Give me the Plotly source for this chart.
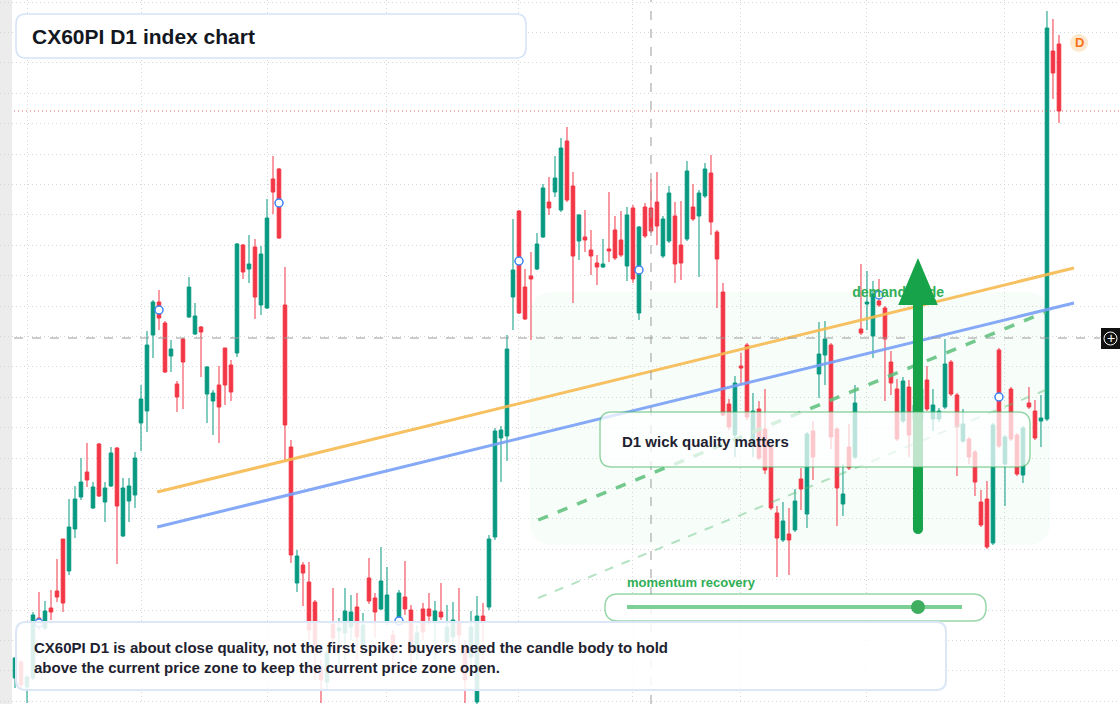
import plotly.graph_objects as go

W, H = 1120, 704

opens = [122,138,113,122,182,172,192,209,261,229,271,303,328,292,356,298,314,352,264,299,
         305,377,389,465,498,477,444,416,461,483,466,473,406,399,415,452,435,447,555,531,
         553,495,492,621,631,495,353,217,235,218,198,133,118,176,169,167,173,193,153,222,
         202,191,178,165,183,203,190,153,191,191,178,188,158,163,178,153,143,98,184,193,
         263,362,364,503,589,513,524,531,563,598,608,590,659,614,559,563,550,537,533,551,
         570,560,534,592,487,593,592,598,544,559,584,555,561,593,584,604,627,568,508,396,
         365,434,455,355,391,371,353,287,260,266,270,321,286,369,426,445,455,371,296,353,
         343,471,496,464,499,492,438,411,379,413,380,381,420,381,381,393,438,405,359,361,
         348,298,301,257,450,336,411,365,325,397,389,379,381,749,756]
highs = [143,140,125,188,208,199,210,241,261,301,314,342,357,318,357,318,353,353,322,322,
         348,415,469,500,510,479,460,419,462,523,497,474,434,410,434,452,440,557,556,565,
         561,554,601,644,632,533,360,250,238,238,200,140,155,212,182,212,205,207,187,242,
         207,253,233,170,210,239,195,175,197,207,199,217,195,198,212,160,189,204,197,265,
         372,374,465,581,590,531,548,567,616,623,644,662,673,628,586,590,570,545,561,608,
         584,589,593,595,574,597,621,628,584,614,598,599,639,616,610,637,645,570,517,401,
         424,447,457,407,399,411,355,294,298,292,311,332,368,379,478,479,457,373,336,376,
         415,536,529,519,521,494,449,421,423,420,400,415,434,411,392,461,440,407,391,363,
         350,310,319,377,452,365,413,367,374,413,400,405,789,781,765]
lows = [112,110,97,120,170,170,180,198,188,225,262,300,313,291,303,278,313,236,263,278,
        292,349,368,442,470,427,428,388,391,482,465,423,377,365,357,395,399,443,521,517,
        481,485,491,586,561,339,237,208,194,160,120,97,110,155,130,140,160,140,145,196,
        162,190,175,125,175,185,135,140,160,175,140,180,150,155,150,97,135,96,140,190,
        260,318,339,470,486,480,460,530,562,585,603,588,598,497,540,548,525,515,532,538,
        540,543,519,517,480,562,567,555,542,557,517,520,559,579,523,602,565,492,384,370,
        343,415,380,343,340,326,290,223,258,225,268,290,272,320,402,415,351,274,284,330,
        341,465,470,442,493,399,405,359,377,343,375,379,389,369,378,391,404,324,357,336,
        304,273,251,255,352,294,359,324,317,391,360,353,379,701,677]
closes = [142,115,123,185,175,189,188,203,197,273,301,318,320,313,304,312,347,294,312,314,
          342,401,455,498,482,428,451,403,438,513,484,468,433,407,393,415,408,556,528,536,
          503,546,582,608,562,375,245,244,227,170,150,120,147,162,172,189,188,163,175,199,
          188,219,205,147,207,191,150,167,168,184,189,183,173,180,165,120,173,184,178,261,
          369,370,451,530,487,481,521,556,612,592,622,652,600,544,585,560,544,533,536,549,
          542,545,585,521,573,564,569,574,581,607,536,537,629,581,607,631,578,541,385,373,
          417,432,383,389,342,330,292,262,279,260,299,311,366,343,446,461,363,312,306,332,
          397,467,498,506,495,461,417,361,419,365,395,411,391,395,389,436,406,373,376,343,
          318,275,253,375,354,363,361,326,372,393,362,382,772,727,689]
idx = list(range(len(opens)))

grid_x = [2, 21, 42, 62, 84, 103, 121, 142, 165]
marker_idx = [4, 24, 44, 64, 84, 104, 144, 164]
marker_price = [177, 490, 597, 179, 539, 530, 505, 403]

orange_x, orange_y = [23.7, 176.5], [308, 532]
blue_x, blue_y = [23.7, 176.5], [273, 497]
dash_x, dash_y = [87.2, 171.8], [280, 488]
faint_x, faint_y = [87.2, 171.8], [202, 410]
crosshair_idx, crosshair_price, last_price = 106, 462, 689

def px2p(x, y):
    return x / W, 1 - y / H

def rrect(x0, y0, x1, y1, r):
    def P(x, y):
        a, b = px2p(x, y)
        return f"{a:.5f},{b:.5f}"
    return (f"M{P(x0+r,y0)} L{P(x1-r,y0)} Q{P(x1,y0)} {P(x1,y0+r)} L{P(x1,y1-r)} "
            f"Q{P(x1,y1)} {P(x1-r,y1)} L{P(x0+r,y1)} Q{P(x0,y1)} {P(x0,y1-r)} "
            f"L{P(x0,y0+r)} Q{P(x0,y0)} {P(x0+r,y0)} Z")

fig = go.Figure()
fig.add_trace(go.Candlestick(x=idx, open=opens, high=highs, low=lows, close=closes,
    increasing=dict(line=dict(color="#089981", width=1), fillcolor="#089981"),
    decreasing=dict(line=dict(color="#f23645", width=1), fillcolor="#f23645"),
    whiskerwidth=0, showlegend=False, hoverinfo="skip"))

for xs, ys, col, wd, dash in [(faint_x, faint_y, "rgba(92,191,122,0.45)", 2, "dash"),
                              (dash_x, dash_y, "rgba(92,191,122,0.85)", 3.5, "dash"),
                              (blue_x, blue_y, "rgba(120,160,245,0.9)", 3, "solid"),
                              (orange_x, orange_y, "rgba(246,185,80,0.9)", 3, "solid")]:
    fig.add_trace(go.Scatter(x=xs, y=ys, mode="lines", line=dict(color=col, width=wd, dash=dash),
                             showlegend=False, hoverinfo="skip"))

fig.add_trace(go.Scatter(x=marker_idx, y=marker_price, mode="markers",
    marker=dict(symbol="circle", size=8, color="white", line=dict(color="#3b82f6", width=1.5)),
    showlegend=False, hoverinfo="skip"))

fig.add_trace(go.Scatter(x=[147.2], y=[507], mode="text", text=["<b>demand trade</b>"],
    textfont=dict(family="Liberation Sans, Arial", size=14, color="#2fae55"),
    showlegend=False, hoverinfo="skip"))

shapes = []
shapes.append(dict(type="rect", xref="paper", yref="paper", x0=0, x1=12/W, y0=0, y1=1,
                   fillcolor="#ececec", line_width=0, layer="below"))
shapes.append(dict(type="path", xref="paper", yref="paper", path=rrect(530, 292, 1050, 545, 24),
                   fillcolor="rgba(34,197,94,0.035)", line_width=0, layer="below"))
shapes.append(dict(type="line", xref="x", yref="paper", x0=crosshair_idx, x1=crosshair_idx, y0=0, y1=1,
                   line=dict(color="#9a9a9a", width=1, dash="dash")))
shapes.append(dict(type="line", xref="paper", yref="y", x0=14/W, x1=1100/W, y0=crosshair_price, y1=crosshair_price,
                   line=dict(color="#9a9a9a", width=1, dash="dash")))
shapes.append(dict(type="line", xref="paper", yref="y", x0=14/W, x1=1, y0=last_price, y1=last_price,
                   line=dict(color="rgba(220,60,70,0.8)", width=1, dash="1px,3px")))
shapes.append(dict(type="line", xref="x", yref="y", x0=150.5, x1=150.5, y0=270, y1=500,
                   line=dict(color="#16a34a", width=10)))
shapes.append(dict(type="circle", xref="x", yref="y", x0=149.7, x1=151.3, y0=266, y1=274,
                   fillcolor="#16a34a", line_width=0))
shapes.append(dict(type="path", xref="x", yref="y",
                   path="M147.2,495 L153.8,495 L150.5,542 Z", fillcolor="#16a34a", line_width=0))
shapes.append(dict(type="path", xref="paper", yref="paper", path=rrect(600, 412, 1030, 467, 12),
                   fillcolor="rgba(255,255,255,0.72)", line=dict(color="rgba(70,180,100,0.55)", width=1.5)))
shapes.append(dict(type="path", xref="paper", yref="paper", path=rrect(605, 594, 986, 621, 13),
                   fillcolor="rgba(255,255,255,0.8)", line=dict(color="rgba(70,180,100,0.55)", width=1.5)))
a0, b0 = px2p(627, 607); a1, b1 = px2p(962, 607)
shapes.append(dict(type="line", xref="paper", yref="paper", x0=a0, x1=a1, y0=b0, y1=b1,
                   line=dict(color="#7ccf95", width=4)))
c0, d0 = px2p(911, 600); c1, d1 = px2p(925, 614)
shapes.append(dict(type="circle", xref="paper", yref="paper", x0=c0, x1=c1, y0=d0, y1=d1,
                   fillcolor="#3fae5f", line_width=0))
shapes.append(dict(type="path", xref="paper", yref="paper", path=rrect(16, 14, 526, 58, 10),
                   fillcolor="white", line=dict(color="#d4e2f7", width=1.5)))
shapes.append(dict(type="path", xref="paper", yref="paper", path=rrect(16, 622, 946, 690, 10),
                   fillcolor="rgba(255,255,255,0.86)", line=dict(color="#dbe7f7", width=2)))
e0, f0 = px2p(1070, 34); e1, f1 = px2p(1088, 52)
shapes.append(dict(type="circle", xref="paper", yref="paper", x0=e0, x1=e1, y0=f0, y1=f1,
                   fillcolor="#fde9cf", line_width=0))
g0, h0 = px2p(1101, 328); g1, h1 = px2p(1120, 349)
shapes.append(dict(type="rect", xref="paper", yref="paper", x0=g0, x1=g1, y0=h0, y1=h1,
                   fillcolor="#111111", line_width=0))
i0, j0 = px2p(1104, 332); i1, j1 = px2p(1117, 345)
shapes.append(dict(type="circle", xref="paper", yref="paper", x0=i0, x1=i1, y0=j0, y1=j1,
                   line=dict(color="white", width=1)))

def ann(text, x, y, size, color, xanchor="left", bold=True):
    xp, yp = px2p(x, y)
    return dict(text=f"<b>{text}</b>" if bold else text, x=xp, y=yp, xref="paper", yref="paper",
                xanchor=xanchor, yanchor="middle", showarrow=False, align="left",
                font=dict(family="Liberation Sans, Arial", size=size, color=color))

annotations = [
    ann("CX60PI D1 index chart", 30, 36, 21, "#131722"),
    ann("D1 wick quality matters", 620, 441, 15, "#1e2230"),
    ann("momentum recovery", 625, 582, 13, "#2fae55"),
    ann("CX60PI D1 is about close quality, not the first spike: buyers need the candle body to hold<br>"
        "above the current price zone to keep the current price zone open.", 32, 657.5, 15, "#1e2230"),
    ann("D", 1079, 43, 13, "#f97316", xanchor="center"),
    ann("+", 1110.5, 338, 14, "white", xanchor="center", bold=False),
]

fig.update_layout(
    width=W, height=H, margin=dict(l=0, r=0, t=0, b=0),
    paper_bgcolor="white", plot_bgcolor="white",
    shapes=shapes, annotations=annotations, boxgap=0.15,
    xaxis=dict(range=[-2.5, 184.17], showticklabels=False, zeroline=False, rangeslider=dict(visible=False),
               tickmode="array", tickvals=grid_x, showgrid=True, gridcolor="#d6d6d6", griddash="1px,3px", gridwidth=1),
    yaxis=dict(range=[96, 800], showticklabels=False, zeroline=False, tick0=798, dtick=30.4,
               showgrid=True, gridcolor="#d6d6d6", griddash="1px,3px", gridwidth=1),
    hovermode=False,
)
fig.write_html("out.html", config={"displayModeBar": False},
               post_script="document.body.style.margin='0';document.body.style.overflow='hidden';")
